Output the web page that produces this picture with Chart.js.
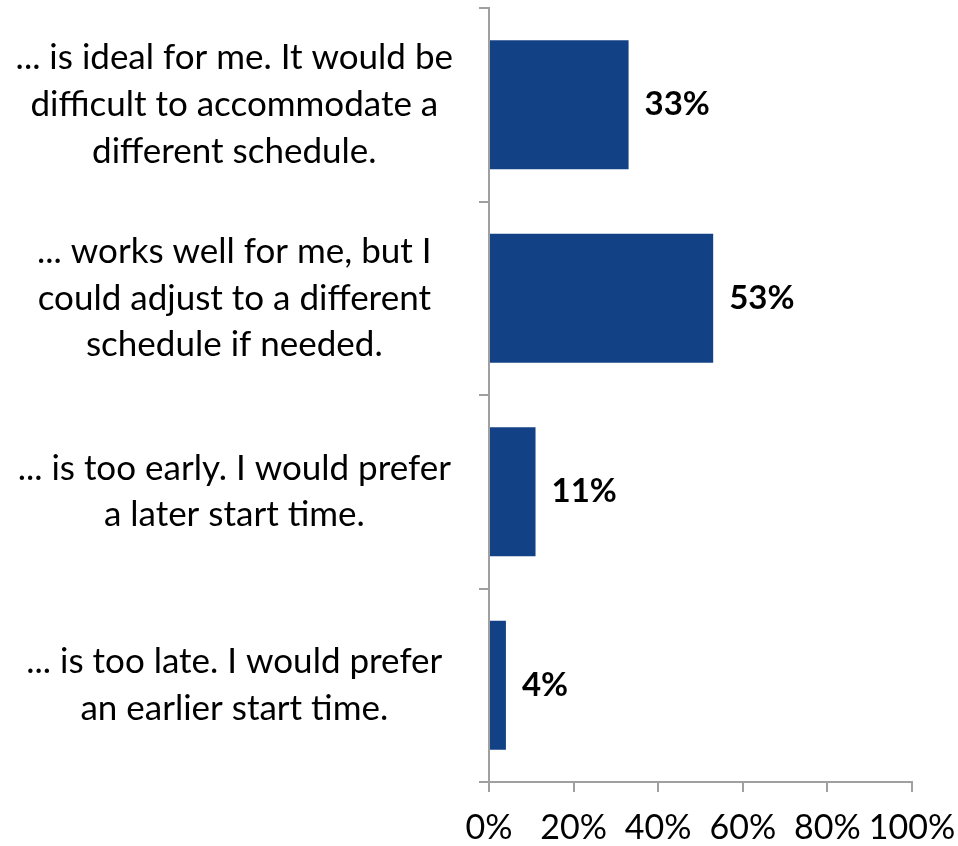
<!DOCTYPE html>
<html><head><meta charset="utf-8">
<script src="https://cdn.jsdelivr.net/npm/chart.js@4/dist/chart.umd.min.js"></script>
<style>html,body{margin:0;padding:0;background:#fff}canvas{display:block}</style>
</head><body>
<canvas id="c" width="958" height="846"></canvas>
<script>
const categories = [
  ["... is ideal for me. It would be", "difficult to accommodate a", "different schedule."],
  ["... works well for me, but I", "could adjust to a different", "schedule if needed."],
  ["... is too early. I would prefer", "a later start time."],
  ["... is too late. I would prefer", "an earlier start time."]
];
const values = [33, 53, 11, 4];
const tickLabels = ["0%", "20%", "40%", "60%", "80%", "100%"];

const FONT = "Lato, 'Open Sans', sans-serif";
const axisColor = "#A0A0A0";

const dataLabels = {
  id: "dataLabels",
  afterDatasetsDraw(chart) {
    const ctx = chart.ctx;
    const meta = chart.getDatasetMeta(0);
    ctx.save();
    ctx.font = "bold 33px " + FONT;
    ctx.fillStyle = "#000";
    ctx.textAlign = "left";
    ctx.textBaseline = "middle";
    meta.data.forEach((bar, i) => {
      ctx.fillText(values[i] + "%", bar.x + 16, bar.y);
    });
    ctx.restore();
  }
};

new Chart(document.getElementById("c"), {
  type: "bar",
  data: {
    labels: categories,
    datasets: [{ data: values, backgroundColor: "#134186", borderWidth: 0,
      categoryPercentage: 1, barPercentage: 0.667 }]
  },
  options: {
    indexAxis: "y",
    responsive: false,
    animation: false,
    layout: { padding: { top: 8, right: 46, left: 0, bottom: 0 } },
    plugins: { legend: { display: false }, tooltip: { enabled: false } },
    scales: {
      x: {
        min: 0, max: 100,
        ticks: { stepSize: 20, color: "#000", font: { family: FONT, size: 34 }, padding: 16,
          maxRotation: 0, minRotation: 0, autoSkip: false,
          callback: (v, i) => tickLabels[i] },
        grid: { drawOnChartArea: false, drawTicks: true, tickLength: 10, color: axisColor, lineWidth: 2 },
        border: { color: axisColor, width: 2 },
        afterFit(scale) { scale.height = 64; scale.paddingLeft = 0; scale.paddingRight = 0; }
      },
      y: {
        ticks: { color: "#000", font: { family: FONT, size: 35, lineHeight: 1.34 }, padding: 26, crossAlign: "center" },
        grid: { offset: true, drawOnChartArea: false, drawTicks: true, tickLength: 10, color: axisColor, lineWidth: 2 },
        border: { color: axisColor, width: 2 },
        afterFit(scale) { scale.width = 489; scale.paddingTop = 0; scale.paddingBottom = 0; }
      }
    }
  },
  plugins: [dataLabels]
});
</script>
</body></html>
